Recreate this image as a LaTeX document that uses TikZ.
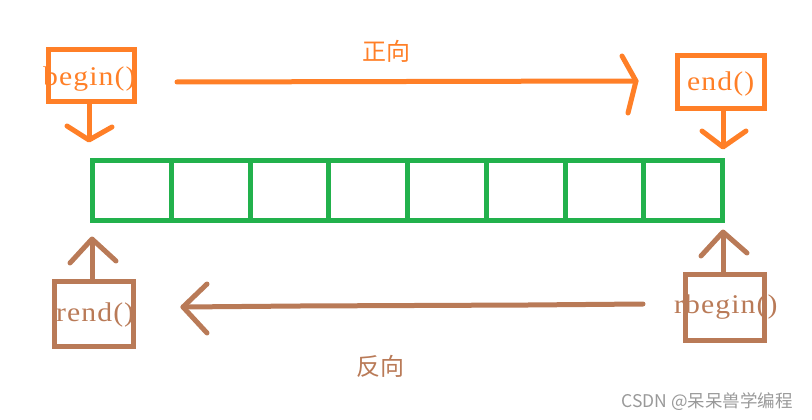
\documentclass[tikz,border=0pt]{standalone}
\usepackage{fontspec}
\setmainfont{Liberation Serif}
\newfontfamily\latinf[FakeStretch=1.1,LetterSpace=4]{Liberation Serif}
\newfontfamily\cjk{Noto Sans CJK SC}
\definecolor{porange}{HTML}{FF7F27}
\definecolor{pbrown}{HTML}{B97A57}
\definecolor{pgreen}{HTML}{22B14C}
\definecolor{wmgray}{HTML}{999999}
\tikzset{
  box/.style={draw, rectangle, line width=5pt, inner sep=0pt},
  cell/.style={draw=pgreen, rectangle, line width=5pt, inner sep=0pt, minimum width=78.75pt, minimum height=60pt},
  lbl/.style={inner sep=0pt, anchor=base west, font=\latinf\fontsize{27}{27}\selectfont},
  cjklbl/.style={inner sep=0pt, font=\cjk\fontsize{24}{24}\selectfont},
  stroke/.style={line width=5pt, line cap=round, line join=round},
}
\begin{document}
\begin{tikzpicture}[x=1pt,y=-1pt]
\useasboundingbox (0,0) rectangle (812,420);
% green array
\foreach \i in {1,...,8}{
  \node[cell] (c\i) at ({92.5+78.75*(\i-0.5)},190.5) {};
}
% boxes
\node[box, draw=porange, minimum width=86pt, minimum height=52pt] (bbox) at (91.5,75.5) {};
\node[box, draw=porange, minimum width=87pt, minimum height=53pt] (ebox) at (721,82) {};
\node[box, draw=pbrown, minimum width=79pt, minimum height=65pt] (rebox) at (94,314) {};
\node[box, draw=pbrown, minimum width=79pt, minimum height=66pt] (rbbox) at (725,307.5) {};
% texts
\node[lbl, text=porange] (tbegin) at (43,85) {begin()};
\node[lbl, text=porange] (tend) at (687,91) {end()};
\node[lbl, text=pbrown] (trend) at (56,321) {rend()};
\node[lbl, text=pbrown] (trbegin) at (674,313) {rbegin()};
\node[cjklbl, text=porange] (fwd) at (386,51) {正向};
\node[cjklbl, text=pbrown] (bwd) at (380,366) {反向};
\node[inner sep=0pt, anchor=east, text=wmgray, font=\cjk\fontsize{17.5}{17.5}\selectfont] (wm) at (793,402) {CSDN @呆呆兽学编程};
% coordinates
\coordinate (bt) at (89,140);
\coordinate (bw1) at (67,126);
\coordinate (bw2) at (112,127);
\coordinate (et) at (723,147);
\coordinate (ew1) at (702,131);
\coordinate (ew2) at (746,131);
\coordinate (rt) at (92,239);
\coordinate (rw1) at (70,263);
\coordinate (rw2) at (116,261);
\coordinate (rbt) at (723,232);
\coordinate (rbw1) at (701,256);
\coordinate (rbw2) at (747,253);
\coordinate (fs) at (177,82);
\coordinate (ft) at (636,81);
\coordinate (fw1) at (622,56);
\coordinate (fw2) at (628,113);
\coordinate (bs) at (643,304);
\coordinate (bm1) at (528,305);
\coordinate (bm2) at (300,306);
\coordinate (bkt) at (183,307);
\coordinate (bkw1) at (207,284);
\coordinate (bkw2) at (207,333);
% arrows
\draw[stroke, porange, line cap=butt] (bbox.south -| bt) -- (bt);
\draw[stroke, porange] (bw1) -- (bt) -- (bw2);
\draw[stroke, porange, line cap=butt] (ebox.south -| et) -- (et);
\draw[stroke, porange] (ew1) -- (et) -- (ew2);
\draw[stroke, pbrown, line cap=butt] (rebox.north -| rt) -- (rt);
\draw[stroke, pbrown] (rw1) -- (rt) -- (rw2);
\draw[stroke, pbrown, line cap=butt] (rbbox.north -| rbt) -- (rbt);
\draw[stroke, pbrown] (rbw1) -- (rbt) -- (rbw2);
\draw[stroke, porange] (fs) -- (ft);
\draw[stroke, porange] (fw1) -- (ft) -- (fw2);
\draw[stroke, pbrown] (bs) -- (bm1) -- (bm2) -- (bkt);
\draw[stroke, pbrown] (bkw1) -- (bkt) -- (bkw2);
\end{tikzpicture}
\end{document}
